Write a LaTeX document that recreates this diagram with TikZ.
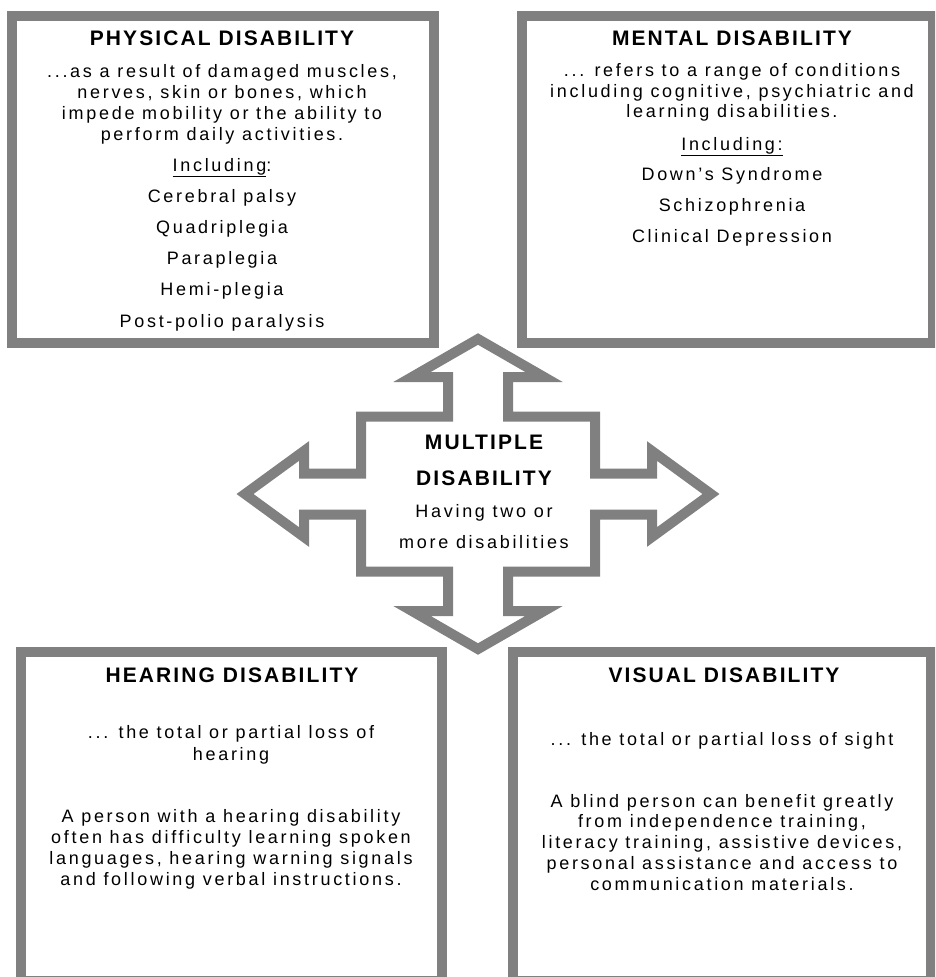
\documentclass[tikz,border=0pt]{standalone}
\usepackage{fontspec}
\setmainfont{Liberation Sans}
\newfontfamily\bodyfont{Liberation Sans}[LetterSpace=15]
\newfontfamily\headfont{Liberation Sans}[LetterSpace=10]
\newcommand{\leaddots}{...}
\definecolor{framegray}{RGB}{128,128,128}
\tikzset{
  frame/.style={draw=framegray, line width=10pt, fill=white},
  head/.style={anchor=base, inner sep=0pt, font=\headfont\bfseries\fontsize{21}{24}\selectfont},
  body/.style={anchor=base, inner sep=0pt, font=\bodyfont\fontsize{18}{21}\selectfont},
}
\begin{document}
\begin{tikzpicture}[x=1pt, y=-1pt]
\useasboundingbox (0,0) rectangle (935,977);
\clip (0,0) rectangle (935,977);
\draw [frame] (12, 15.5) rectangle (434, 343);
\draw [frame] (522, 15.5) rectangle (933, 343);
\draw [frame] (21, 652) rectangle (442, 981);
\draw [frame] (513, 652) rectangle (931, 981);
\draw [frame, shift={(478,494)}] (0,-155) -- (66,-117) -- (30,-117) -- (30,-77.5)
  -- (117,-77.5) -- (117,-20.5) -- (174,-20.5) -- (174,-43) -- (233,0)
  -- (174,43) -- (174,20.5) -- (117,20.5) -- (117,77.5) -- (30,77.5)
  -- (30,117) -- (66,117) -- (0,155) -- (-66,117) -- (-30,117) -- (-30,77.5)
  -- (-117,77.5) -- (-117,20.5) -- (-174,20.5) -- (-174,43) -- (-233,0)
  -- (-174,-43) -- (-174,-20.5) -- (-117,-20.5) -- (-117,-77.5) -- (-30,-77.5)
  -- (-30,-117) -- (-66,-117) -- cycle;

\node [head] (phys) at (222, 45) {PHYSICAL DISABILITY};
\foreach \t [count=\i] in {{\leaddots as a result of damaged muscles,}, {nerves, skin or bones, which},
    {impede mobility or the ability to}, {perform daily activities.}}
  \node [body] (phys-p\i) at (222, 56+21*\i) {\t};
\node [body] (phys-inc) at (222, 171) {\underline{Including}:};
\foreach \t [count=\i] in {Cerebral palsy, Quadriplegia, Paraplegia, Hemi-plegia, Post-polio paralysis}
  \node [body] (phys-l\i) at (222, 171+31.2*\i) {\t};

\node [head] (ment) at (732, 45) {MENTAL DISABILITY};
\foreach \t [count=\i] in {{\leaddots{} refers to a range of conditions}, {including cognitive, psychiatric and},
    {learning disabilities.}}
  \node [body] (ment-p\i) at (732, 56+20.5*\i) {\t};
\node [body] (ment-inc) at (732, 150) {\underline{Including:}};
\foreach \t [count=\i] in {Down’s Syndrome, Schizophrenia, Clinical Depression}
  \node [body] (ment-l\i) at (732, 150+30.8*\i) {\t};

\node [head] (mult-a) at (484, 449) {MULTIPLE};
\node [head] (mult-b) at (484, 485) {DISABILITY};
\node [body] (mult-c) at (484, 517) {Having two or};
\node [body] (mult-d) at (484, 548) {more disabilities};

\node [head] (hear) at (232, 682) {HEARING DISABILITY};
\node [body] (hear-p1) at (231, 738) {\leaddots{} the total or partial loss of};
\node [body] (hear-p2) at (231, 760) {hearing};
\foreach \t [count=\i] in {{A person with a hearing disability}, {often has difficulty learning spoken},
    {languages, hearing warning signals}, {and following verbal instructions.}}
  \node [body] (hear-q\i) at (231, 801+21*\i) {\t};

\node [head] (vis) at (724, 682) {VISUAL DISABILITY};
\node [body] (vis-p1) at (722, 745) {\leaddots{} the total or partial loss of sight};
\foreach \t [count=\i] in {{A blind person can benefit greatly}, {from independence training,},
    {literacy training, assistive devices,}, {personal assistance and access to}, {communication materials.}}
  \node [body] (vis-q\i) at (722, 786.5+20.7*\i) {\t};
\end{tikzpicture}
\end{document}
